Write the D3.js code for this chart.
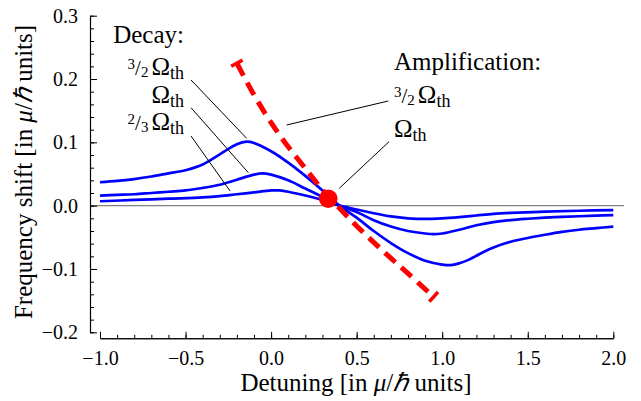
<!DOCTYPE html>
<html><head><meta charset="utf-8">
<script src="https://cdn.jsdelivr.net/npm/d3@7"></script>
<style>
html,body{margin:0;padding:0;background:#fff;}
svg{display:block;}
text{font-family:"Liberation Serif",serif;}
</style></head>
<body>
<svg id="chart" width="641" height="401"></svg>
<script>
// ---- data ----
const detuning15 = [-1.0,-0.9,-0.8,-0.7,-0.6,-0.5,-0.4,-0.3,-0.2,-0.143,-0.1,0.0,0.1,0.2,0.3,0.4,0.5,0.6,0.7,0.8,0.9,1.0,1.05,1.1,1.15,1.2,1.25,1.3,1.4,1.5,1.6,1.7,1.8,1.9,2.0];
const shift15    = [0.037,0.039,0.042,0.046,0.051,0.056,0.065,0.081,0.097,0.101,0.099,0.086,0.068,0.047,0.024,0.0,-0.019,-0.040,-0.059,-0.075,-0.087,-0.093,-0.094,-0.091,-0.086,-0.079,-0.072,-0.066,-0.057,-0.051,-0.046,-0.0415,-0.038,-0.0355,-0.033];
const detuning10 = [-1.0,-0.9,-0.8,-0.7,-0.6,-0.5,-0.4,-0.3,-0.2,-0.1,-0.05,0.0,0.1,0.2,0.3,0.4,0.5,0.6,0.7,0.8,0.9,0.95,1.0,1.1,1.2,1.3,1.4,1.5,1.6,1.7,1.8,1.9,2.0];
const shift10    = [0.016,0.017,0.018,0.020,0.022,0.024,0.028,0.033,0.041,0.049,0.051,0.049,0.040,0.027,0.014,0.0,-0.010,-0.023,-0.033,-0.040,-0.044,-0.045,-0.044,-0.038,-0.031,-0.026,-0.0228,-0.0207,-0.019,-0.0178,-0.0167,-0.0158,-0.015];
const detuning07 = [-1.0,-0.8,-0.6,-0.4,-0.3,-0.2,-0.1,0.0,0.05,0.1,0.2,0.3,0.4,0.5,0.6,0.7,0.8,0.9,1.0,1.1,1.2,1.3,1.4,1.6,1.8,2.0];
const shift07    = [0.007,0.009,0.011,0.013,0.015,0.018,0.021,0.024,0.024,0.022,0.016,0.009,0.0,-0.006,-0.012,-0.017,-0.020,-0.021,-0.020,-0.018,-0.0155,-0.013,-0.0115,-0.0095,-0.008,-0.007];
const ampDetuning = [-0.20,-0.10,0.0,0.1,0.2,0.3,0.4,0.5,0.6,0.7,0.8,0.95];
const ampShift    = [0.225,0.175,0.131,0.093,0.059,0.025,-0.004,-0.032,-0.058,-0.083,-0.107,-0.144];
const thresholdPoint = [0.334, 0.011];
const xTicks = [-1.0,-0.5,0.0,0.5,1.0,1.5,2.0];
const yTicks = [-0.2,-0.1,0.0,0.1,0.2,0.3];
const xLabel = ["Detuning [in ", "μ", "/", "ℏ", " units]"];
const yLabel = ["Frequency shift [in ", "μ", "/", "ℏ", " units]"];
const decayTitle = "Decay:";
const ampTitle = "Amplification:";
// annotation anchors (data coordinates)
const decayLabels = [ {frac:["3","2"], y:0.2063}, {frac:null, y:0.1616}, {frac:["2","3"], y:0.1195} ];
const ampLabels = [ {frac:["3","2"], y:0.1616}, {frac:null, y:0.1089} ];
const leaders = [
  [[-0.468,0.1985],[-0.143,0.1064]],
  [[-0.468,0.1547],[-0.133,0.0521]],
  [[-0.468,0.1100],[-0.240,0.0232]],
  [[0.685,0.1653],[0.091,0.1274]],
  [[0.689,0.1010],[0.3985,0.0274]]
];

// ---- chart ----
const FONT = "Liberation Serif";
const svg = d3.select("#chart");
const x = d3.scaleLinear().domain([-1,2]).range([100,613.3]);
const y = d3.scaleLinear().domain([-0.2,0.3]).range([332.3,15.7]);
const yAxisX = 90, xAxisY = 338.3;

// zero line
svg.append("line").attr("x1",yAxisX).attr("x2",624).attr("y1",y(0)).attr("y2",y(0))
  .attr("stroke","#808080").attr("stroke-width",1.2);

// axes
const yMinor = d3.range(-0.2,0.3001,0.02).map(v=>+v.toFixed(2));
const xMinor = d3.range(-1,2.0001,0.1).map(v=>+v.toFixed(1));
const gy = svg.append("g").attr("transform",`translate(${yAxisX},0)`);
gy.call(d3.axisLeft(y).tickValues(yMinor).tickSizeInner(-4).tickSizeOuter(0).tickFormat(""));
gy.append("g").call(d3.axisLeft(y).tickValues(yTicks).tickSizeInner(-7).tickSizeOuter(0).tickPadding(12).tickFormat(d3.format(".1f")));
const gx = svg.append("g").attr("transform",`translate(0,${xAxisY})`);
gx.call(d3.axisBottom(x).tickValues(xMinor).tickSizeInner(-3.5).tickSizeOuter(0).tickFormat(""));
gx.append("g").call(d3.axisBottom(x).tickValues(xTicks).tickSizeInner(-6.5).tickSizeOuter(0).tickPadding(13).tickFormat(d3.format(".1f")));
svg.selectAll("g").attr("font-family",FONT);
svg.selectAll(".domain").attr("stroke","#000").attr("stroke-width",1.1);
svg.selectAll(".tick line").attr("stroke","#000").attr("stroke-width",1);
svg.selectAll(".tick text").attr("font-size",20).attr("font-family",FONT).attr("fill","#000");

// axis titles
const xt = svg.append("text").attr("x",356).attr("y",391).attr("text-anchor","middle").attr("font-size",25).attr("font-family",FONT);
xLabel.forEach((s,i)=>xt.append("tspan").attr("font-style",(i==1||i==3)?"italic":null).text(s));
const yt = svg.append("text").attr("transform","translate(32,172) rotate(-90)").attr("text-anchor","middle").attr("font-size",25).attr("font-family",FONT);
yLabel.forEach((s,i)=>yt.append("tspan").attr("font-style",(i==1||i==3)?"italic":null).text(s));

// curves
const line = d3.line().x(d=>x(d[0])).y(d=>y(d[1])).curve(d3.curveCatmullRom.alpha(0.5));
[[detuning15,shift15],[detuning10,shift10],[detuning07,shift07]].forEach(([xs,ys])=>{
  svg.append("path").datum(xs.map((v,i)=>[v,ys[i]])).attr("d",line)
    .attr("fill","none").attr("stroke","#0000ff").attr("stroke-width",2.7);
});

// amplification dashed curve with end caps
const ampPts = ampDetuning.map((v,i)=>[v,ampShift[i]]);
svg.append("path").datum(ampPts).attr("d",line).attr("fill","none")
  .attr("stroke","#ff0000").attr("stroke-width",5).attr("stroke-dasharray","14,8");
function cap(p, q){
  const px=x(p[0]), py=y(p[1]), qx=x(q[0]), qy=y(q[1]);
  const dx=qx-px, dy=qy-py, L=Math.hypot(dx,dy), nx=-dy/L*6.5, ny=dx/L*6.5;
  svg.append("line").attr("x1",px-nx).attr("y1",py-ny).attr("x2",px+nx).attr("y2",py+ny)
    .attr("stroke","#ff0000").attr("stroke-width",3.5);
}
cap(ampPts[0], ampPts[1]);
cap(ampPts[ampPts.length-1], ampPts[ampPts.length-2]);

// threshold dot
svg.append("circle").attr("cx",x(thresholdPoint[0])).attr("cy",y(thresholdPoint[1])).attr("r",9.3).attr("fill","#ff0000");

// leader lines
leaders.forEach(([a,b])=>{
  svg.append("line").attr("x1",x(a[0])).attr("y1",y(a[1])).attr("x2",x(b[0])).attr("y2",y(b[1]))
    .attr("stroke","#000").attr("stroke-width",1);
});

// labels
function omegaLabel(t, frac){
  if(frac){
    t.append("tspan").attr("font-size",15).attr("dy",-6).text(frac[0]);
    t.append("tspan").attr("font-size",21).attr("dy",6).text("/");
    t.append("tspan").attr("font-size",15).attr("dy",2).text(frac[1]);
    t.append("tspan").attr("font-size",25).attr("dy",-2).attr("dx",3).text("Ω");
  } else {
    t.append("tspan").attr("font-size",25).text("Ω");
  }
  t.append("tspan").attr("font-size",18).attr("dy",4).text("th");
}
const decayX = -0.509, ampX = 0.718;
svg.append("text").attr("x",x(decayX)).attr("y",y(0.2564)).attr("text-anchor","end").attr("font-size",25).attr("font-family",FONT).text(decayTitle);
decayLabels.forEach(l=>{
  const t = svg.append("text").attr("x",x(decayX)).attr("y",y(l.y)).attr("text-anchor","end").attr("font-family",FONT);
  omegaLabel(t,l.frac);
});
svg.append("text").attr("x",x(ampX)).attr("y",y(0.2137)).attr("text-anchor","start").attr("font-size",25).attr("font-family",FONT).text(ampTitle);
ampLabels.forEach(l=>{
  const t = svg.append("text").attr("x",x(ampX)).attr("y",y(l.y)).attr("text-anchor","start").attr("font-family",FONT);
  omegaLabel(t,l.frac);
});
</script>
</body></html>
